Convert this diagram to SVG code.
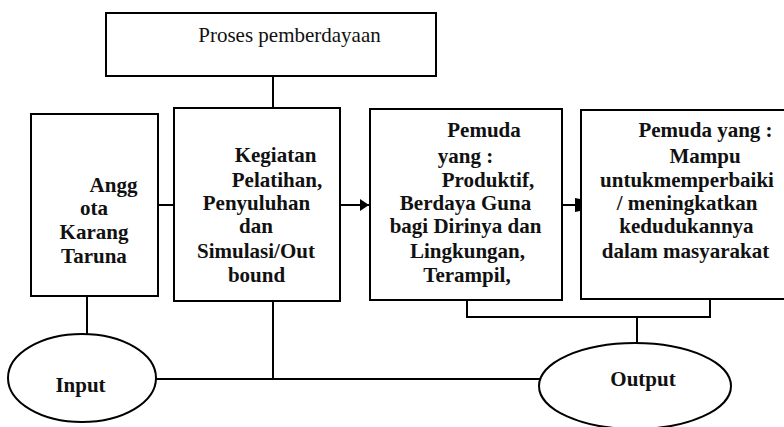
<svg xmlns="http://www.w3.org/2000/svg" width="784" height="427" viewBox="0 0 784 427">
<style>
.box{fill:#fff;stroke:#000;stroke-width:2}
.ln{fill:none;stroke:#000;stroke-width:2}
text{font-family:"Liberation Serif","Times New Roman",serif;font-size:21px;fill:#111;text-anchor:middle}
.b{font-weight:bold}
</style>
<defs>
<marker id="ah" markerWidth="9" markerHeight="12" refX="9" refY="6" orient="auto" markerUnits="userSpaceOnUse">
<path d="M0,0 L9,6 L0,12 Z" fill="#000"/>
</marker>
<marker id="ah2" markerWidth="5" markerHeight="14" refX="5" refY="7" orient="auto" markerUnits="userSpaceOnUse">
<path d="M0,0 L5,1 L5,13 L0,14 Z" fill="#000"/>
</marker>
</defs>
<rect width="784" height="427" fill="#fff"/>
<g id="connectors">
<line class="ln" x1="273" y1="76" x2="273" y2="108"/>
<line class="ln" x1="158" y1="205" x2="174" y2="205"/>
<line class="ln" x1="340" y1="205" x2="369" y2="205" marker-end="url(#ah)"/>
<line class="ln" x1="562" y1="205" x2="580" y2="205" marker-end="url(#ah2)"/>
<polyline class="ln" points="467,300 467,317 710,317 710,299"/>
<line class="ln" x1="637" y1="317" x2="637" y2="343"/>
<line class="ln" x1="87" y1="296" x2="87" y2="334"/>
<line class="ln" x1="156" y1="379" x2="540" y2="379"/>
<line class="ln" x1="273" y1="301" x2="273" y2="379"/>
</g>
<g id="proses">
<rect class="box" x="106" y="13" width="330" height="63"/>
<text x="289.5" y="42">Proses pemberdayaan</text>
</g>
<g id="anggota">
<rect class="box" x="31" y="114" width="127" height="182"/>
<text class="b" x="113.5" y="192">Angg</text>
<text class="b" x="94" y="215">ota</text>
<text class="b" x="94" y="239">Karang</text>
<text class="b" x="94" y="263">Taruna</text>
</g>
<g id="kegiatan">
<rect class="box" x="174" y="108" width="166" height="193"/>
<text class="b" x="275.5" y="162">Kegiatan</text>
<text class="b" x="277" y="187">Pelatihan,</text>
<text class="b" x="256.5" y="210">Penyuluhan</text>
<text class="b" x="256" y="233">dan</text>
<text class="b" x="256" y="258">Simulasi/Out</text>
<text class="b" x="256.5" y="282">bound</text>
</g>
<g id="pemuda">
<rect class="box" x="370" y="109" width="192" height="191"/>
<text class="b" x="484" y="137">Pemuda</text>
<text class="b" x="465.5" y="163">yang :</text>
<text class="b" x="488" y="187">Produktif,</text>
<text class="b" x="465.5" y="210">Berdaya Guna</text>
<text class="b" x="465.5" y="233">bagi Dirinya dan</text>
<text class="b" x="467.5" y="258">Lingkungan,</text>
<text class="b" x="467" y="282">Terampil,</text>
</g>
<g id="mampu">
<rect class="box" x="581" y="110" width="215" height="189"/>
<text class="b" x="705.5" y="137">Pemuda yang :</text>
<text class="b" x="705" y="163">Mampu</text>
<text class="b" x="687" y="187">untukmemperbaiki</text>
<text class="b" x="687" y="210">/ meningkatkan</text>
<text class="b" x="686.5" y="233">kedudukannya</text>
<text class="b" x="685.5" y="258">dalam masyarakat</text>
</g>
<g id="input">
<ellipse class="box" cx="82" cy="378" rx="74" ry="44"/>
<text class="b" x="80.5" y="392">Input</text>
</g>
<g id="output">
<ellipse class="box" cx="635" cy="386" rx="96" ry="43"/>
<text class="b" x="643" y="386">Output</text>
</g>
</svg>
